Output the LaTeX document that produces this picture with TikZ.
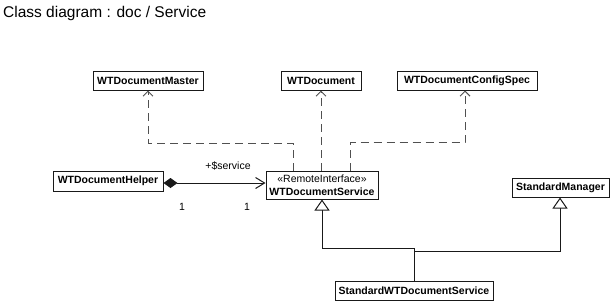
\documentclass[tikz,border=0pt]{standalone}
\usepackage{fontspec}
\setmainfont{Liberation Sans}
\usetikzlibrary{arrows.meta}
\definecolor{depgray}{RGB}{80,80,80}
\definecolor{edgeblack}{RGB}{25,25,25}
\begin{document}
\begin{tikzpicture}[x=1pt,y=-1pt,
  cls/.style={draw=edgeblack, line width=1pt, fill=white, inner sep=0pt,
    font=\fontsize{10.5}{12}\selectfont\bfseries, minimum height=19pt},
  dep/.style={draw=depgray, line width=1pt, dash pattern=on 8pt off 5pt,
    -{Straight Barb[length=5pt,width=10pt]}},
  gen/.style={draw=edgeblack, line width=1pt,
    -{Triangle[open,length=11pt,width=15pt,fill=white]}},
  comp/.style={draw=edgeblack, line width=1pt,
    {Diamond[length=14pt,width=10pt]}-{Straight Barb[length=9pt,width=11pt]}},
  lbl/.style={font=\fontsize{10.5}{12}\selectfont, inner sep=0pt}
]
\useasboundingbox (0,0) rectangle (610,301);

% title
\node[anchor=base west, font=\fontsize{15.5}{18}\selectfont, inner sep=0pt] (title) at (3,17) {Class diagram : doc / Service};

% classes
\node[cls, minimum width=110pt] (master) at (148,80.5) {WTDocumentMaster};
\node[cls, minimum width=80pt] (wtdoc) at (321,80.5) {WTDocument};
\node[cls, minimum width=140pt] (config) at (467,80.5) {WTDocumentConfigSpec};
\node[cls, minimum width=110pt, minimum height=20pt] (helper) at (108,181) {WTDocumentHelper};
\node[cls, minimum width=112pt, minimum height=28pt, align=center,
      font=\fontsize{10.5}{13}\selectfont] (service) at (322,185)
      {«RemoteInterface»\\\textbf{WTDocumentService}};
\node[cls, minimum width=97pt] (stdmgr) at (560.5,187.5) {StandardManager};
\node[cls, minimum width=158pt] (sws) at (414,290.5) {StandardWTDocumentService};

% dependencies
\coordinate (dl) at (293,143);
\coordinate (dr) at (350,142);
\draw[dep] (service.north -| dl) -- (dl) -| (master.south);
\draw[dep] (service.north -| wtdoc.south) -- (wtdoc.south);
\draw[dep] (service.north -| dr) -- (dr) -| ([xshift=-2pt]config.south);

% composition
\coordinate (ay) at (0,183);
\draw[comp] (helper.east |- ay) -- (service.west |- ay);
\node[lbl] (role) at (228,166) {+\$service};
\node[lbl] (m1) at (182,207) {1};
\node[lbl] (m2) at (247,207) {1};

% generalizations
\coordinate (gl) at (414,248);
\coordinate (gr) at (414,251);
\draw[gen] (sws.north -| gl) -- (gl) -| (service.south);
\draw[gen] (gr) -| ([xshift=-0.5pt]stdmgr.south);
\end{tikzpicture}
\end{document}
